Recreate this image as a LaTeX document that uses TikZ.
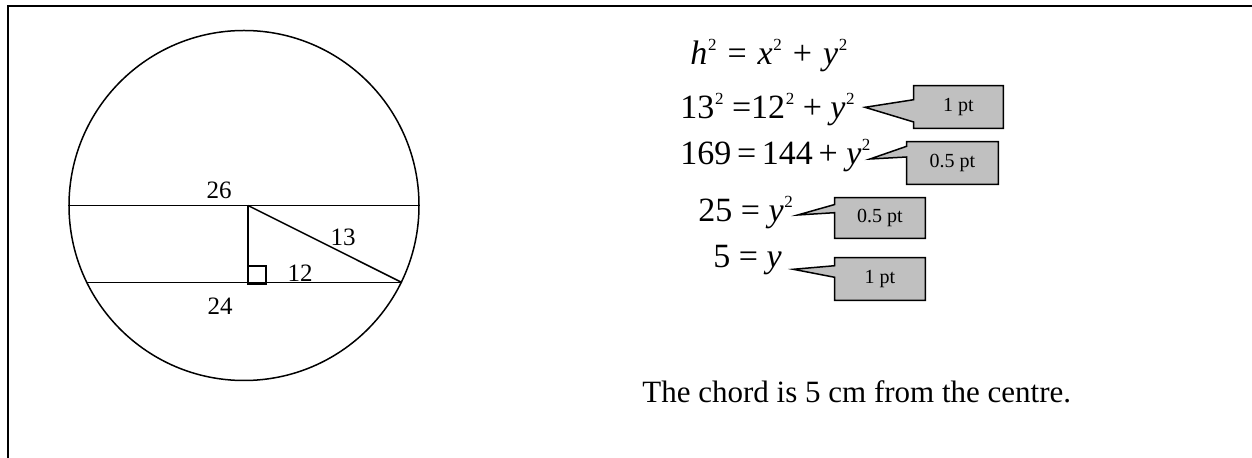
\documentclass[tikz,border=0pt]{standalone}
\usepackage{fontspec}
\setmainfont{Liberation Serif}
\usetikzlibrary{calc,backgrounds}
\definecolor{calloutgray}{HTML}{C0C0C0}
\tikzset{
  geom/.style={line width=0.75pt},
  lbl/.style={font=\fontsize{12.5}{12.5}\selectfont, inner sep=0},
  eqn/.style={font=\fontsize{17}{17}\selectfont, inner sep=0, anchor=base west},
  note/.style={font=\fontsize{15.5}{15.5}\selectfont, inner sep=0, anchor=base west},
  ptbox/.style={minimum width=45pt, minimum height=21pt, inner sep=0, font=\fontsize{10}{10}\selectfont},
  callout/.style={draw, fill=calloutgray, line width=0.75pt, line join=miter},
  frame/.style={line width=1pt}
}
\newcommand{\sqr}{\kern0.3pt\raisebox{7.2pt}{\fontsize{8.5}{8.5}\selectfont 2}}
\newcommand{\wsp}{\hspace{5.5pt}}
\begin{document}
\begin{tikzpicture}[x=0.5pt,y=-0.5pt]
\useasboundingbox (0,0) rectangle (1252,458);
% frame
\draw[frame] (7.5,458) -- (7.5,6.5) -- (1252,6.5);

% circle and chords
\node[geom, draw, circle, minimum size=175pt, inner sep=0] (C) at (244,205.5) {};
\coordinate (M) at (248,205.5);
\coordinate (F) at (248,284);
\coordinate (A) at (C.206.65);
\coordinate (B) at (C.-26.65);
\draw[geom] (C.west) -- (C.east);
\draw[geom] (A) -- (B);
\draw[geom] (M) -- (F);
\draw[geom] (M) -- (B);
\draw[geom] (F) rectangle ++(18,-18);

\node[lbl] (l26) at (219,190.5) {26};
\node[lbl] (l13) at (343,237) {13};
\node[lbl] (l12) at (300,273.5) {12};
\node[lbl] (l24) at (220,306) {24};

% equations
\node[eqn] (e1) at (690,65) {\textit{h\/}\sqr\wsp=\wsp\textit{x\/}\sqr\wsp+\wsp\textit{y\/}\sqr};
\node[eqn] (e2) at (680,119) {13\sqr\ =12\sqr\ + \textit{y\/}\sqr};
\node[eqn] (e3) at (680,165) {169\,=\,144\,+ \textit{y\/}\sqr};
\node[eqn] (e4) at (698,222) {25 = \textit{y\/}\sqr};
\node[eqn] (e5) at (713,268) {5 = \textit{y}};

% callouts
\node[ptbox, minimum width=44.5pt, minimum height=21pt] (c1) at (958.5,107) {1 pt};
\node[ptbox, minimum width=45.5pt, minimum height=21pt] (c2) at (952.5,163) {0.5 pt};
\node[ptbox, minimum width=45pt, minimum height=20pt] (c3) at (880,218) {0.5 pt};
\node[ptbox, minimum width=45pt, minimum height=21pt] (c4) at (880,279) {1 pt};
\coordinate (t1) at (865,107.3);
\coordinate (t2) at (870,159);
\coordinate (t3) at (797.7,215);
\coordinate (t4) at (793.3,269.3);
\begin{scope}[on background layer]
\draw[callout] (t1) -- ($(c1.north west)!0.33!(c1.south west)$) -- (c1.north west) -- (c1.north east) -- (c1.south east) -- (c1.south west) -- ($(c1.north west)!0.85!(c1.south west)$) -- cycle;
\draw[callout] (t2) -- ($(c2.north west)!0.11!(c2.south west)$) -- (c2.north west) -- (c2.north east) -- (c2.south east) -- (c2.south west) -- ($(c2.north west)!0.36!(c2.south west)$) -- cycle;
\draw[callout] (t3) -- ($(c3.north west)!0.17!(c3.south west)$) -- (c3.north west) -- (c3.north east) -- (c3.south east) -- (c3.south west) -- ($(c3.north west)!0.37!(c3.south west)$) -- cycle;
\draw[callout] (t4) -- ($(c4.north west)!0.19!(c4.south west)$) -- (c4.north west) -- (c4.north east) -- (c4.south east) -- (c4.south west) -- ($(c4.north west)!0.46!(c4.south west)$) -- cycle;
\end{scope}

\node[note] (concl) at (642,403) {The chord is 5 cm from the centre.};
\end{tikzpicture}
\end{document}
